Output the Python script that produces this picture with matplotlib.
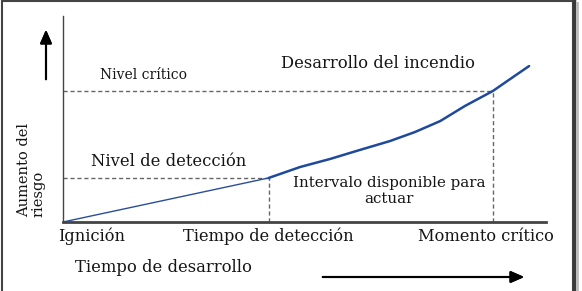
import matplotlib.pyplot as plt
from matplotlib.patches import Rectangle

# curve: time of development vs risk (axes units 0-100)
t = [0, 42.6, 49.1, 55.3, 61.5, 67.7, 72.9, 78.1, 83.2, 89, 93.2, 96.5]
risk = [0, 21.4, 26.7, 30.6, 35, 39.3, 43.7, 49, 56.3, 63.6, 70.4, 75.7]
t_det, r_det = 42.6, 21.4
t_crit, r_crit = 89, 63.6
tick_pos = [6, 42.6, 87.6]
tick_labels = ['Ignición', 'Tiempo de detección', 'Momento crítico']

W, H = 582, 291
plt.rcParams['font.family'] = ['DejaVu Serif']
fig = plt.figure(figsize=(W / 100, H / 100), dpi=100)

def fx(px):
    return px / W

def fy(py):
    return 1 - py / H

# frame round the whole picture
fig.add_artist(Rectangle((fx(1.5), fy(300)), fx(571.5), fy(1.5) - fy(300),
                         transform=fig.transFigure, fill=False, ec='#444444', lw=1.5))
fig.add_artist(plt.Line2D([fx(573.5), fx(573.5)], [fy(1), fy(300)], transform=fig.transFigure,
                          color='#3a3a3a', lw=2.5))
fig.add_artist(plt.Line2D([fx(576.5), fx(576.5)], [fy(3), fy(300)], transform=fig.transFigure,
                          color='#bbbbbb', lw=2))

ax = fig.add_axes([fx(63), fy(222), fx(546) - fx(63), fy(16) - fy(222)])
ax.set_xlim(0, 100)
ax.set_ylim(0, 100)
for s in ['top', 'right']:
    ax.spines[s].set_visible(False)
ax.spines['left'].set_color('#444444')
ax.spines['left'].set_linewidth(1.0)
ax.spines['bottom'].set_color('#444444')
ax.spines['bottom'].set_linewidth(2.0)
ax.set_xticks([])
ax.set_yticks([])

# guide lines
dash = dict(color='#666666', lw=1.0, dashes=(3, 2))
ax.plot([0, t_det], [r_det, r_det], **dash)
ax.plot([t_det, t_det], [0, r_det], **dash)
ax.plot([0, t_crit], [r_crit, r_crit], **dash)
ax.plot([t_crit, t_crit], [0, r_crit], **dash)

# curve
ax.plot(t[:2], risk[:2], color='#2b4d9b', lw=1.0, solid_capstyle='round')
ax.plot(t[1:], risk[1:], color='#1f4a9c', lw=1.8, solid_capstyle='round', solid_joinstyle='round')

txt = dict(color='#151515')
for pos, lab in zip(tick_pos, tick_labels):
    ax.text(pos, -7, lab, ha='center', va='center', fontsize=11.7, **txt)

fig.text(fx(143), fy(75), 'Nivel crítico', ha='center', va='center', fontsize=10, **txt)
fig.text(fx(378), fy(63), 'Desarrollo del incendio', ha='center', va='center', fontsize=11.8, **txt)
fig.text(fx(169), fy(162), 'Nivel de detección', ha='center', va='center', fontsize=11.8, **txt)
fig.text(fx(389), fy(191), 'Intervalo disponible para\nactuar', ha='center', va='center',
         fontsize=10.8, linespacing=1.25, **txt)
fig.text(fx(163), fy(268), 'Tiempo de desarrollo', ha='center', va='center', fontsize=11.8, **txt)
fig.text(fx(31), fy(217), 'Aumento del\nriesgo', rotation=90, ha='center', va='bottom',
         multialignment='left', fontsize=10.5, linespacing=1.0, **txt)

# arrows
arr = dict(arrowstyle='-|>,head_length=0.8,head_width=0.35', color='black', lw=1.5)
fig.add_artist(plt.annotate('', xy=(fx(527), fy(277)), xytext=(fx(320), fy(277)),
                            xycoords='figure fraction', arrowprops=arr))
fig.add_artist(plt.annotate('', xy=(fx(46), fy(27)), xytext=(fx(46), fy(82)),
                            xycoords='figure fraction', arrowprops=arr))

fig.savefig('out.png', dpi=100)
